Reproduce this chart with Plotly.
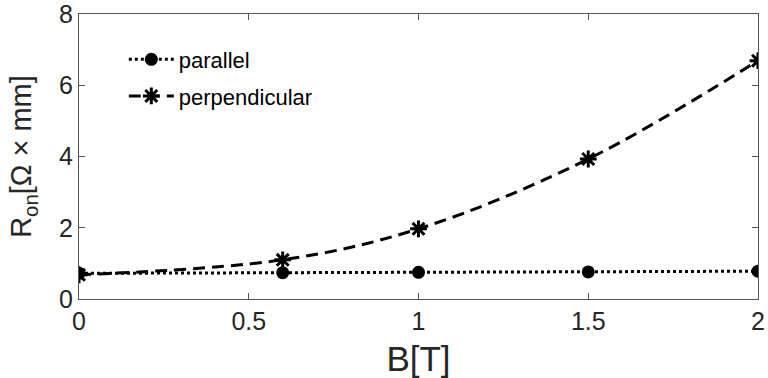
import plotly.graph_objects as go

B = [0, 0.6, 1, 1.5, 2]
parallel = [0.72, 0.74, 0.75, 0.76, 0.78]
perpendicular = [0.68, 1.10, 1.97, 3.93, 6.69]
xticks = [0, 0.5, 1, 1.5, 2]
xticklabels = ["0", "0.5", "1", "1.5", "2"]
yticks = [0, 2, 4, 6, 8]

FONT = "Liberation Sans, Arial"

fig = go.Figure()
fig.add_trace(go.Scatter(
    x=B, y=parallel, name="parallel", mode="lines+markers", legendgroup="a",
    line=dict(color="black", width=3, dash="dot"),
    marker=dict(symbol="circle", size=13, color="black"),
))
fig.add_trace(go.Scatter(
    x=B, y=perpendicular, name="perpendicular", mode="lines+markers", legendgroup="b",
    line=dict(color="black", width=3, dash="12px,7px", shape="spline", smoothing=1.0),
    marker=dict(symbol="asterisk-open", size=14, color="black", line=dict(color="black", width=3)),
))

axis_common = dict(
    showgrid=False, zeroline=False, showline=True, linecolor="#555555", linewidth=1,
    mirror="ticks", ticks="inside", ticklen=6, tickcolor="#555555", automargin=False,
    ticklabeloverflow="allow",
    tickfont=dict(family=FONT, size=25, color="#262626"),
)
fig.update_xaxes(range=[0, 2], tickvals=xticks, ticktext=xticklabels,
                 title=dict(text="B[T]", font=dict(family=FONT, size=35, color="#262626"), standoff=14),
                 **axis_common)
fig.update_yaxes(range=[0, 8], tickvals=yticks,
                 title=dict(text="R<sub>on</sub>[Ω × mm]", font=dict(family=FONT, size=29, color="#262626"), standoff=18),
                 **axis_common)
fig.update_layout(
    width=768, height=378,
    margin=dict(l=79, r=10, t=14, b=79),
    paper_bgcolor="white", plot_bgcolor="white",
    showlegend=True,
    legend=dict(x=0.066, y=0.914, xanchor="left", yanchor="top", bgcolor="rgba(0,0,0,0)",
                font=dict(family=FONT, size=22, color="black"),
                itemwidth=45, tracegroupgap=5),
)
fig.write_html("out.html", post_script="document.body.style.margin='0px';",
               config={"displayModeBar": False})
